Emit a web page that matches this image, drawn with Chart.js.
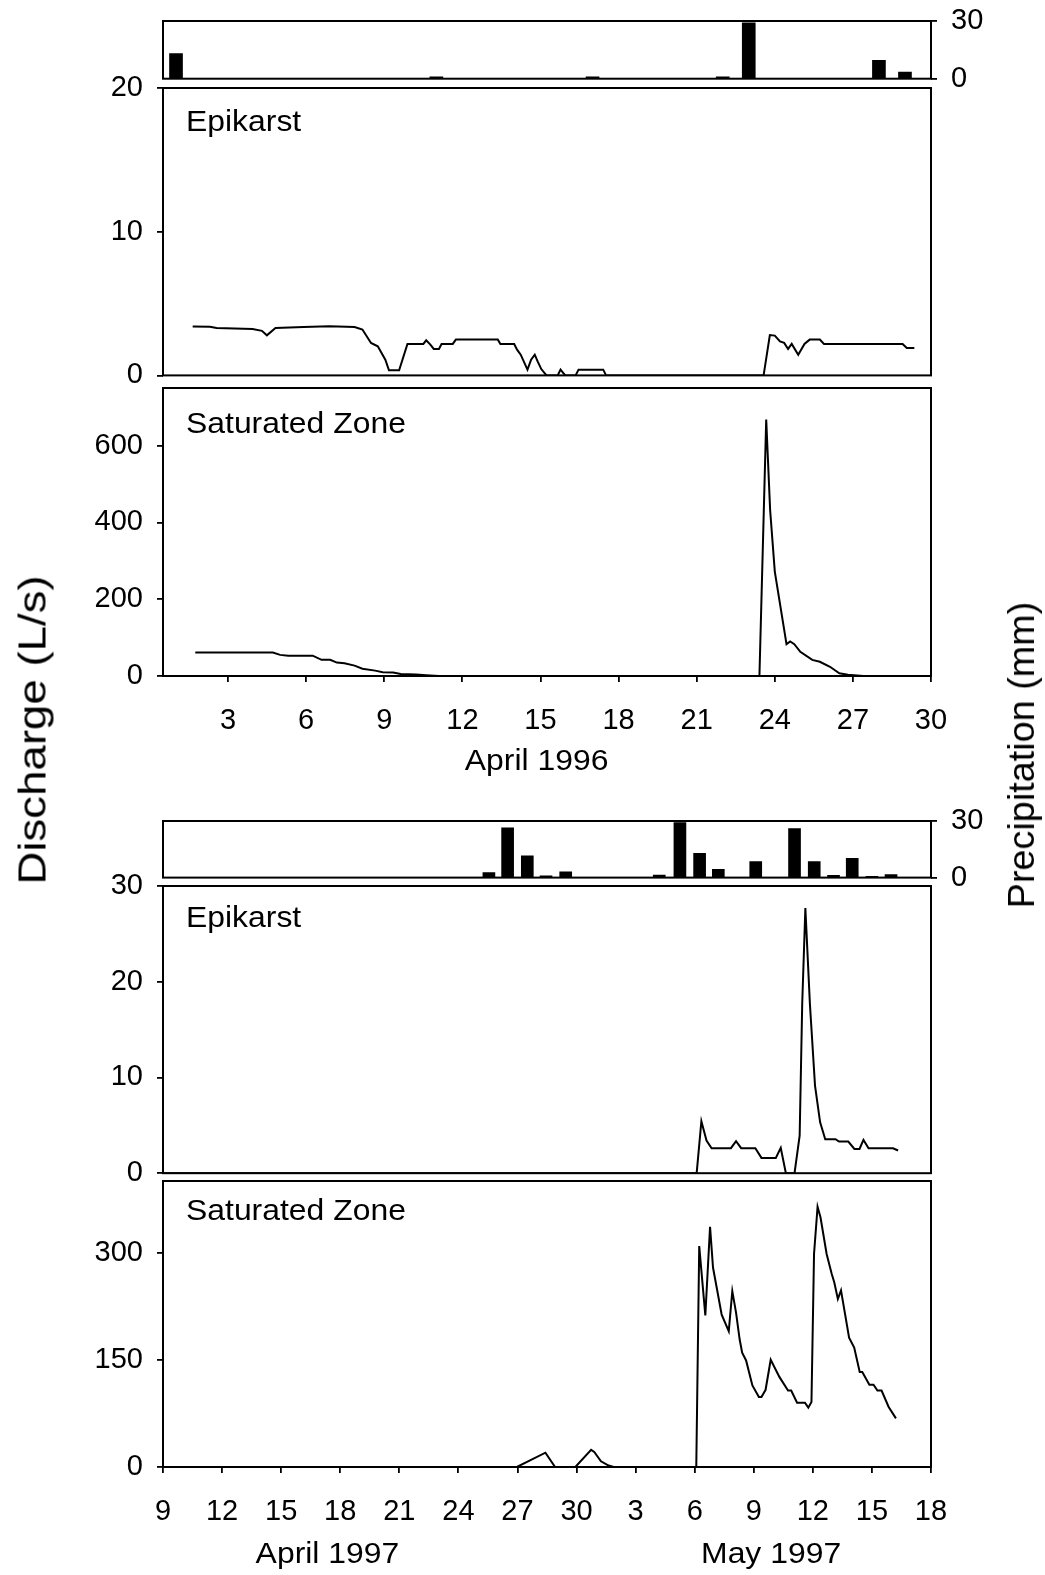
<!DOCTYPE html>
<html>
<head>
<meta charset="utf-8">
<title>Epikarst and saturated zone discharge</title>
<script src="https://cdn.jsdelivr.net/npm/chart.js@4.4.1/dist/chart.umd.min.js"></script>
<style>
  html, body { margin: 0; padding: 0; background: #fff; }
  #page { position: relative; width: 1045px; height: 1575px; overflow: hidden; background: #fff; }
  #page canvas { position: absolute; left: 0; }
  .axis-title {
    position: absolute;
    font-family: "Liberation Sans", Arial, sans-serif;
    color: #000;
    white-space: nowrap;
  }
  #q-title { left: 33px; top: 730px; font-size: 38px; transform: translate(-50%, -50%) rotate(-90deg) scaleX(1.2); }
  #p-title { left: 1022px; top: 755px; font-size: 36px; transform: translate(-50%, -50%) rotate(-90deg) scaleX(1.05); }
</style>
</head>
<body>
<div id="page">
  <canvas id="rain96"></canvas>
  <canvas id="epi96"></canvas>
  <canvas id="sat96"></canvas>
  <canvas id="rain97"></canvas>
  <canvas id="epi97"></canvas>
  <canvas id="sat97"></canvas>
  <div class="axis-title" id="q-title">Discharge (L/s)</div>
  <div class="axis-title" id="p-title">Precipitation (mm)</div>
</div>

<script>
// ---- April 1996 (x = day of April) ----
const rainDay96 = [1, 11, 17, 22, 23, 28, 29];
const rainMm96  = [13.1, 1.0, 1.0, 1.0, 29, 9.6, 3.4];

const epiDay96 = [1.64, 2.3, 2.56, 3.94, 4.3, 4.49, 4.82, 5.9, 6.88, 7.86,
  8.16, 8.49, 8.75, 9.04, 9.18, 9.57, 9.89, 10.5, 10.61, 10.77,
  10.9, 11.1, 11.2, 11.63, 11.75, 13.36, 13.46, 13.99, 14.1, 14.24,
  14.5, 14.64, 14.78, 14.89, 15.03, 15.23, 15.66, 15.77, 15.95, 16.35,
  16.46, 17.41, 17.52, 23.57, 23.81, 24.0, 24.2, 24.36, 24.51, 24.65,
  24.9, 25.14, 25.34, 25.73, 25.89, 28.91, 29.07, 29.36];
const epiQ96 = [3.40, 3.38, 3.30, 3.23, 3.1, 2.79, 3.30, 3.37, 3.42, 3.37,
  3.19, 2.26, 2.02, 1.09, 0.35, 0.35, 2.19, 2.19, 2.44, 2.14,
  1.84, 1.84, 2.19, 2.19, 2.49, 2.49, 2.19, 2.19, 1.79, 1.44,
  0.40, 1.09, 1.44, 0.98, 0.44, 0, 0, 0.4, 0, 0,
  0.4, 0.4, 0, 0, 2.81, 2.77, 2.37, 2.26, 1.84, 2.19,
  1.44, 2.19, 2.49, 2.49, 2.19, 2.19, 1.91, 1.91];

const satDay96 = [1.74, 4.72, 5.0, 5.31, 6.25, 6.59, 6.92, 7.18, 7.47, 7.86,
  8.16, 8.65, 8.94, 9.34, 9.63, 10.22, 10.61, 11.1, 23.41, 23.67,
  23.82, 24.0, 24.45, 24.59, 24.75, 24.98, 25.44, 25.73, 26.12, 26.48,
  26.81, 27.4, 29.42];
const satQ96 = [61, 61, 55, 53, 53, 42, 42, 35, 33, 27,
  19, 14, 10, 9, 5, 4, 2, 0, 0, 668,
  433, 272, 83, 90, 83, 63, 42, 37, 24, 7,
  3, 0, 0];

const dayTicks96  = [3, 6, 9, 12, 15, 18, 21, 24, 27, 30];
const dayLabels96 = ['3', '6', '9', '12', '15', '18', '21', '24', '27', '30'];
const epiTicks96  = [0, 10, 20];
const satTicks96  = [0, 200, 400, 600];

// ---- April-May 1997 (x = day counted from 1 April; 31 = 1 May) ----
const rainDay97 = [25.55, 26.5, 27.5, 28.45, 29.45, 34.2, 35.25, 36.25, 37.2, 39.1,
  41.07, 42.07, 43.05, 44.0, 45.0, 45.97];
const rainMm97  = [2.7, 26.4, 11.6, 0.9, 3.0, 1.4, 29.1, 12.8, 4.4, 8.5,
  26, 8.5, 1.2, 10.2, 0.7, 1.6];

const epiDay97 = [9, 36.1, 36.34, 36.6, 36.86, 37.84, 38.1, 38.36, 39.08, 39.39,
  40.12, 40.37, 40.63, 41.07, 41.33, 41.46, 41.62, 41.85, 42.11, 42.37,
  42.63, 43.15, 43.33, 43.8, 44.11, 44.37, 44.57, 44.83, 46.07, 46.33];
const epiQ97 = [0, 0, 5.43, 3.41, 2.61, 2.61, 3.34, 2.61, 2.61, 1.6,
  1.6, 2.64, 0, 0, 3.93, 17.7, 27.7, 17.7, 9.15, 5.32,
  3.55, 3.55, 3.3, 3.3, 2.54, 2.54, 3.48, 2.61, 2.61, 2.37];

const satDay97 = [26.97, 28.42, 28.91, 29.94, 30.74, 30.9, 31.24, 31.63, 31.89, 36.08,
  36.23, 36.54, 36.78, 36.93, 37.37, 37.73, 37.91, 38.1, 38.28, 38.41,
  38.61, 38.93, 39.26, 39.39, 39.6, 39.86, 40.3, 40.74, 40.9, 41.2,
  41.6, 41.77, 41.93, 42.06, 42.24, 42.39, 42.7, 42.96, 43.09, 43.27,
  43.43, 43.84, 44.1, 44.38, 44.51, 44.87, 45.08, 45.28, 45.49, 45.85,
  46.22];
const satQ97 = [0, 20, 0, 0, 24, 21, 8, 2, 0, 0,
  309, 212, 336, 279, 213, 190, 246, 216, 179, 160,
  149, 114, 98, 98, 108, 150, 126, 107, 107, 90,
  90, 83, 91, 298, 364, 349, 298, 270, 258, 235,
  247, 181, 167, 133, 133, 115, 115, 107, 107, 84,
  68];

const dayTicks97  = [9, 12, 15, 18, 21, 24, 27, 30, 33, 36, 39, 42, 45, 48];
const dayLabels97 = ['9', '12', '15', '18', '21', '24', '27', '30', '3', '6', '9', '12', '15', '18'];
const epiTicks97  = [0, 10, 20, 30];
const satTicks97  = [0, 150, 300];

const rainTicks = [0, 30];

// ---- layout ----
const PAGE_W = 1045;
const PLOT_LEFT = 163;
const PLOT_RIGHT = 931;
const FONT = '"Liberation Sans", Arial, sans-serif';

Chart.defaults.font.family = FONT;
Chart.defaults.font.size = 29;
Chart.defaults.color = '#000';
Chart.defaults.animation = false;

function pts(xs, ys) {
  return xs.map((x, i) => ({ x: x, y: ys[i] }));
}

// box round the plot area, panel name and month captions
const framePlugin = {
  id: 'frame',
  afterDraw(chart, args, opts) {
    const ctx = chart.ctx;
    const a = chart.chartArea;
    ctx.save();
    ctx.lineWidth = 2;
    ctx.strokeStyle = '#000';
    ctx.strokeRect(a.left, a.top, a.right - a.left, a.bottom - a.top);
    ctx.fillStyle = '#000';
    ctx.font = '29px ' + FONT;
    ctx.textBaseline = 'alphabetic';
    if (opts.label) {
      ctx.save();
      ctx.translate(a.left + 23, a.top + opts.labelDrop);
      ctx.scale(1.1, 1);
      ctx.textAlign = 'left';
      ctx.fillText(opts.label, 0, 0);
      ctx.restore();
    }
    (opts.months || []).forEach(m => {
      ctx.save();
      ctx.translate(chart.scales.x.getPixelForValue(m.day), a.bottom + opts.monthDrop);
      ctx.scale(1.1, 1);
      ctx.textAlign = 'center';
      ctx.fillText(m.text, 0, 0);
      ctx.restore();
    });
    ctx.restore();
  }
};

function hiddenX(min, max) {
  return { type: 'linear', min: min, max: max, display: false, offset: false, grid: { offset: false } };
}

function shownX(min, max, ticks, labels, height) {
  return {
    type: 'linear', min: min, max: max, offset: false,
    afterBuildTicks: s => { s.ticks = ticks.map(v => ({ value: v })); },
    afterFit: s => { s.height = height; },
    grid: { drawOnChartArea: false, tickLength: 6, color: '#000', lineWidth: 1.8, offset: false },
    border: { display: false },
    ticks: { padding: 22, autoSkip: false, maxRotation: 0, callback: (v, i) => labels[i] }
  };
}

function leftY(max, ticks) {
  return {
    position: 'left', min: 0, max: max,
    afterBuildTicks: s => { s.ticks = ticks.map(v => ({ value: v })); },
    afterFit: s => { s.width = PLOT_LEFT; },
    grid: { drawOnChartArea: false, tickLength: 6, color: '#000', lineWidth: 1.8 },
    border: { display: false },
    ticks: { padding: 14 }
  };
}

function rightY() {
  return {
    position: 'right', min: 0, max: 30,
    afterBuildTicks: s => { s.ticks = rainTicks.map(v => ({ value: v })); },
    afterFit: s => { s.width = PAGE_W - PLOT_RIGHT; },
    grid: { drawOnChartArea: false, tickLength: 6, color: '#000', lineWidth: 1.8 },
    border: { display: false },
    ticks: { padding: 14 }
  };
}

// place a canvas so that its plot box runs from `top` to `bottom` on the page;
// the margins stay wider than the half tick label plus tick padding
function mount(id, top, bottom, below) {
  const cv = document.getElementById(id);
  const above = 45;
  cv.width = PAGE_W;
  cv.height = Math.round(bottom - top + above + below);
  cv.style.width = PAGE_W + 'px';
  cv.style.height = cv.height + 'px';
  cv.style.top = (top - above) + 'px';
  return { cv: cv, above: above, below: cv.height - above - (bottom - top) };
}

const basePlugins = { legend: { display: false }, tooltip: { enabled: false } };

function rainChart(id, top, bottom, days, mm, xmin, xmax, thickness) {
  const m = mount(id, top, bottom, 45);
  return new Chart(m.cv, {
    type: 'bar',
    data: { datasets: [{ data: pts(days, mm), backgroundColor: '#000', borderWidth: 0, barThickness: thickness }] },
    options: {
      responsive: false,
      layout: { padding: { left: PLOT_LEFT, right: 0, top: m.above, bottom: m.below } },
      scales: { x: hiddenX(xmin, xmax), y: rightY() },
      plugins: Object.assign({ frame: {} }, basePlugins)
    },
    plugins: [framePlugin]
  });
}

function flowChart(id, top, bottom, days, q, xAxis, yAxis, frameOpts, below, withAxis) {
  const m = mount(id, top, bottom, below);
  return new Chart(m.cv, {
    type: 'line',
    data: { datasets: [{ data: pts(days, q), borderColor: '#000', borderWidth: 2, pointRadius: 0, tension: 0, fill: false }] },
    options: {
      responsive: false,
      layout: { padding: { left: 0, right: PAGE_W - PLOT_RIGHT, top: m.above, bottom: withAxis ? 0 : m.below } },
      scales: { x: xAxis, y: yAxis },
      plugins: Object.assign({ frame: frameOpts }, basePlugins)
    },
    plugins: [framePlugin]
  });
}

// April 1996
rainChart('rain96', 21, 78.7, rainDay96, rainMm96, 0.5, 30, 13);
flowChart('epi96', 88.3, 375.7, epiDay96, epiQ96, hiddenX(0.5, 30), leftY(20, epiTicks96),
  { label: 'Epikarst', labelDrop: 43 }, 45, false);
flowChart('sat96', 388.3, 676, satDay96, satQ96,
  shownX(0.5, 30, dayTicks96, dayLabels96, 114), leftY(750, satTicks96),
  { label: 'Saturated Zone', labelDrop: 45, months: [{ text: 'April 1996', day: 14.85 }], monthDrop: 94 }, 114, true);

// April-May 1997
rainChart('rain97', 820.7, 877.3, rainDay97, rainMm97, 9, 48, 12);
flowChart('epi97', 885.5, 1172.7, epiDay97, epiQ97, hiddenX(9, 48), leftY(30, epiTicks97),
  { label: 'Epikarst', labelDrop: 41 }, 45, false);
flowChart('sat97', 1180.6, 1466.7, satDay97, satQ97,
  shownX(9, 48, dayTicks97, dayLabels97, 108), leftY(400, satTicks97),
  { label: 'Saturated Zone', labelDrop: 39,
    months: [{ text: 'April 1997', day: 17.35 }, { text: 'May 1997', day: 39.88 }], monthDrop: 96 }, 108, true);
</script>
</body>
</html>
